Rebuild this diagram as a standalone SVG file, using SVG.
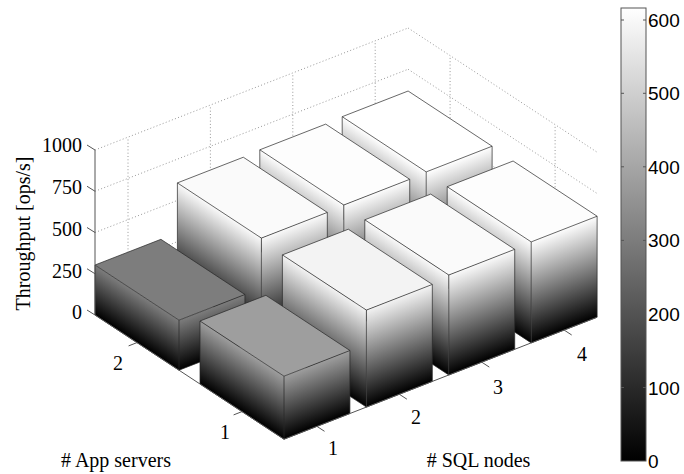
<svg xmlns="http://www.w3.org/2000/svg" width="684" height="474" viewBox="0 0 684 474">
<style>
.grid{fill:none;stroke:#8c8c8c;stroke-width:0.9;stroke-dasharray:1 2.3}
.axis{fill:none;stroke:#555;stroke-width:1}
.edge{fill:none;stroke:#262626;stroke-width:0.7;stroke-linejoin:round}
.top{stroke:#262626;stroke-width:0.7;stroke-linejoin:round}
.lbl{font-family:"Liberation Serif","Times New Roman",serif;font-size:20px;fill:#000}
.cb{font-family:"Liberation Sans",Arial,sans-serif;font-size:19px;fill:#000}
</style>
<defs>
<linearGradient id="g255" x1="0" y1="0" x2="0" y2="1"><stop offset="0" stop-color="#000"/><stop offset="1" stop-color="#fff"/></linearGradient>
<linearGradient id="g253" x1="0" y1="0" x2="0" y2="1"><stop offset="0" stop-color="#000"/><stop offset="1" stop-color="#fdfdfd"/></linearGradient>
<linearGradient id="g250" x1="0" y1="0" x2="0" y2="1"><stop offset="0" stop-color="#000"/><stop offset="1" stop-color="#fafafa"/></linearGradient>
<linearGradient id="g243" x1="0" y1="0" x2="0" y2="1"><stop offset="0" stop-color="#000"/><stop offset="1" stop-color="#f3f3f3"/></linearGradient>
<linearGradient id="g158" x1="0" y1="0" x2="0" y2="1"><stop offset="0" stop-color="#000"/><stop offset="1" stop-color="#9e9e9e"/></linearGradient>
<linearGradient id="g125" x1="0" y1="0" x2="0" y2="1"><stop offset="0" stop-color="#000"/><stop offset="1" stop-color="#7d7d7d"/></linearGradient>
<linearGradient id="cbar" x1="0" y1="1" x2="0" y2="0"><stop offset="0" stop-color="#000"/><stop offset="1" stop-color="#fff"/></linearGradient>
</defs>
<rect width="684" height="474" fill="#fff"/>

<g id="grid">
<path class="grid" d="M95,273.75L408.1,151.75M95,232.5L408.1,110.5M95,191.25L408.1,69.25M95,150L408.1,28"/>
<path class="grid" d="M408.1,151.75L597.1,275.95M408.1,110.5L597.1,234.7M408.1,69.25L597.1,193.45M408.1,28L597.1,152.2"/>
<path class="grid" d="M128,302.2V137.2M210.4,270.1V105.1M292.8,238V73M375.2,205.9V40.9M450.1,220.6V55.6M555.1,289.6V124.6"/>
</g>

<g id="bar-s4-a2">
<rect width="1" height="1" fill="url(#g255)" transform="matrix(84,55.2,0,-102,342.2,218.7)"/>
<rect width="1" height="1" fill="url(#g255)" transform="matrix(65.92,-25.68,0,-102,426.2,273.9)"/>
<polygon class="top" fill="#fff" points="342.2,116.7 408.12,91.02 492.12,146.22 426.2,171.9"/>
<path class="edge" d="M342.2,218.7L426.2,273.9L492.12,248.22M342.2,218.7V116.7M426.2,273.9V171.9M492.12,248.22V146.22"/>
</g>
<g id="bar-s3-a2">
<rect width="1" height="1" fill="url(#g253)" transform="matrix(84,55.2,0,-101,259.8,250.8)"/>
<rect width="1" height="1" fill="url(#g253)" transform="matrix(65.92,-25.68,0,-101,343.8,306)"/>
<polygon class="top" fill="#fdfdfd" points="259.8,149.8 325.72,124.12 409.72,179.32 343.8,205"/>
<path class="edge" d="M259.8,250.8L343.8,306L409.72,280.32M259.8,250.8V149.8M343.8,306V205M409.72,280.32V179.32"/>
</g>
<g id="bar-s2-a2">
<rect width="1" height="1" fill="url(#g250)" transform="matrix(84,55.2,0,-100,177.4,282.9)"/>
<rect width="1" height="1" fill="url(#g250)" transform="matrix(65.92,-25.68,0,-100,261.4,338.1)"/>
<polygon class="top" fill="#fafafa" points="177.4,182.9 243.32,157.22 327.32,212.42 261.4,238.1"/>
<path class="edge" d="M177.4,282.9L261.4,338.1L327.32,312.42M177.4,282.9V182.9M261.4,338.1V238.1M327.32,312.42V212.42"/>
</g>
<g id="bar-s4-a1">
<rect width="1" height="1" fill="url(#g253)" transform="matrix(84,55.2,0,-101,447.2,287.7)"/>
<rect width="1" height="1" fill="url(#g253)" transform="matrix(65.92,-25.68,0,-101,531.2,342.9)"/>
<polygon class="top" fill="#fdfdfd" points="447.2,186.7 513.12,161.02 597.12,216.22 531.2,241.9"/>
<path class="edge" d="M447.2,287.7L531.2,342.9L597.12,317.22M447.2,287.7V186.7M531.2,342.9V241.9M597.12,317.22V216.22"/>
</g>
<g id="bar-s1-a2">
<rect width="1" height="1" fill="url(#g125)" transform="matrix(84,55.2,0,-50,95,315)"/>
<rect width="1" height="1" fill="url(#g125)" transform="matrix(65.92,-25.68,0,-50,179,370.2)"/>
<polygon class="top" fill="#7d7d7d" points="95,265 160.92,239.32 244.92,294.52 179,320.2"/>
<path class="edge" d="M95,315L179,370.2L244.92,344.52M95,315V265M179,370.2V320.2M244.92,344.52V294.52"/>
</g>
<g id="bar-s3-a1">
<rect width="1" height="1" fill="url(#g250)" transform="matrix(84,55.2,0,-100,364.8,319.8)"/>
<rect width="1" height="1" fill="url(#g250)" transform="matrix(65.92,-25.68,0,-100,448.8,375)"/>
<polygon class="top" fill="#fafafa" points="364.8,219.8 430.72,194.12 514.72,249.32 448.8,275"/>
<path class="edge" d="M364.8,319.8L448.8,375L514.72,349.32M364.8,319.8V219.8M448.8,375V275M514.72,349.32V249.32"/>
</g>
<g id="bar-s2-a1">
<rect width="1" height="1" fill="url(#g243)" transform="matrix(84,55.2,0,-97,282.4,351.9)"/>
<rect width="1" height="1" fill="url(#g243)" transform="matrix(65.92,-25.68,0,-97,366.4,407.1)"/>
<polygon class="top" fill="#f3f3f3" points="282.4,254.9 348.32,229.22 432.32,284.42 366.4,310.1"/>
<path class="edge" d="M282.4,351.9L366.4,407.1L432.32,381.42M282.4,351.9V254.9M366.4,407.1V310.1M432.32,381.42V284.42"/>
</g>
<g id="bar-s1-a1">
<rect width="1" height="1" fill="url(#g158)" transform="matrix(84,55.2,0,-63,200,384)"/>
<rect width="1" height="1" fill="url(#g158)" transform="matrix(65.92,-25.68,0,-63,284,439.2)"/>
<polygon class="top" fill="#9e9e9e" points="200,321 265.92,295.32 349.92,350.52 284,376.2"/>
<path class="edge" d="M200,384L284,439.2L349.92,413.52M200,384V321M284,439.2V376.2M349.92,413.52V350.52"/>
</g>

<g id="axes">
<path class="axis" d="M95,315V150M95,315L284,439.2L597.1,317.2"/>
<path class="axis" d="M95,315l-8,-5M95,273.75l-8,-5M95,232.5l-8,-5M95,191.25l-8,-5M95,150l-8,-5"/>
<path class="axis" d="M137,342.6l-8.4,3.3M242,411.6l-8.4,3.3"/>
<path class="axis" d="M317,426.4l7.5,4.9M399.4,394.3l7.5,4.9M481.8,362.2l7.5,4.9M564.2,330.1l7.5,4.9"/>
</g>

<g id="labels" class="lbl">
<text x="82" y="152" text-anchor="end">1000</text>
<text x="82" y="194" text-anchor="end">750</text>
<text x="82" y="236" text-anchor="end">500</text>
<text x="82" y="278" text-anchor="end">250</text>
<text x="82" y="319" text-anchor="end">0</text>
<text transform="translate(30,233.5) rotate(-90)" text-anchor="middle">Throughput [ops/s]</text>
<text x="118" y="370" text-anchor="middle">2</text>
<text x="225" y="439" text-anchor="middle">1</text>
<text x="333" y="455" text-anchor="middle">1</text>
<text x="416" y="424" text-anchor="middle">2</text>
<text x="498" y="394" text-anchor="middle">3</text>
<text x="582" y="361" text-anchor="middle">4</text>
<text x="116" y="467" text-anchor="middle"># App servers</text>
<text x="478.5" y="467" text-anchor="middle"># SQL nodes</text>
</g>

<g id="colorbar">
<rect x="621" y="8" width="25" height="453" fill="url(#cbar)" stroke="#555" stroke-width="1"/>
<path class="axis" d="M621,20h3M646,20h-3M621,93.3h3M646,93.3h-3M621,166.8h3M646,166.8h-3M621,240.4h3M646,240.4h-3M621,313.9h3M646,313.9h-3M621,387.5h3M646,387.5h-3"/>
<g class="cb">
<text x="648" y="27">600</text>
<text x="648" y="100.3">500</text>
<text x="648" y="173.8">400</text>
<text x="648" y="247.4">300</text>
<text x="648" y="320.9">200</text>
<text x="648" y="394.5">100</text>
<text x="648" y="468">0</text>
</g>
</g>
</svg>
